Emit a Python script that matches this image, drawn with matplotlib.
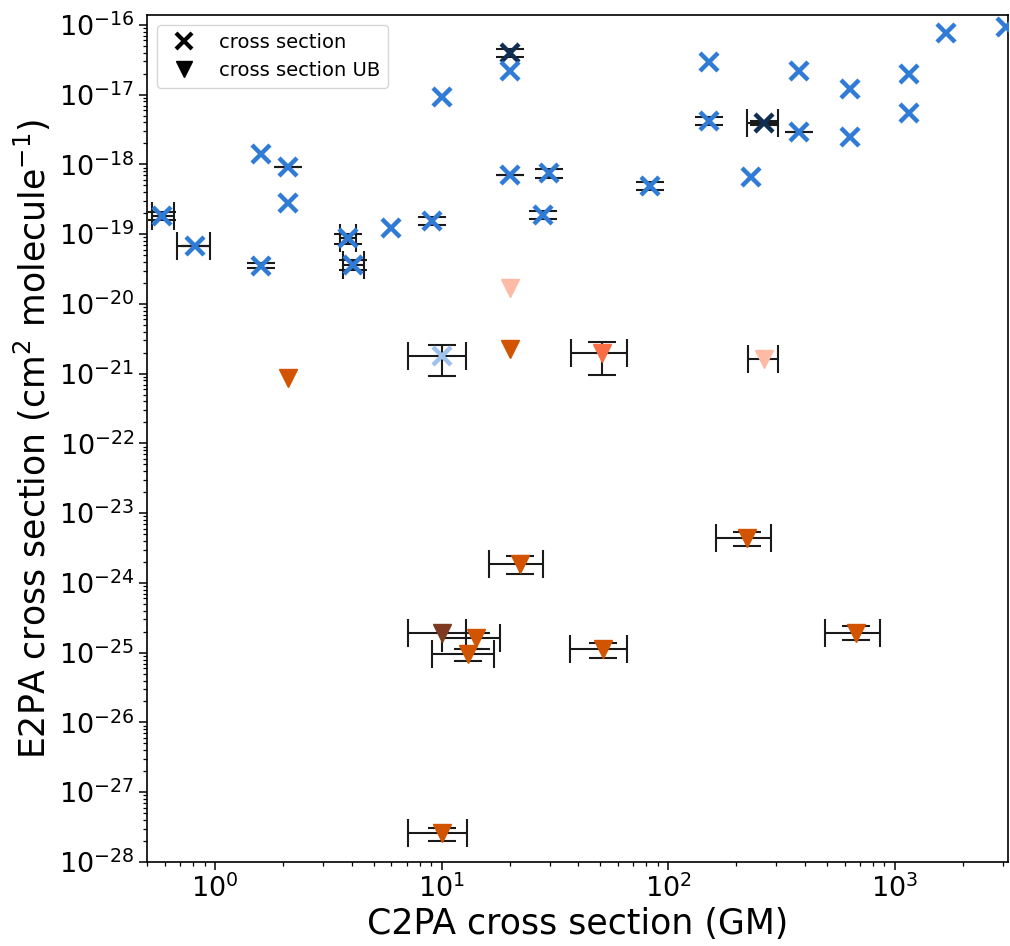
import numpy as np
import matplotlib
matplotlib.use("Agg")
import matplotlib.pyplot as plt
from matplotlib.ticker import LogLocator, NullFormatter
from matplotlib.lines import Line2D

nan = np.nan

# ---- measured cross sections (x markers) ----
cs_x = [0.585, 0.816, 1.59, 2.1, 2.1, 1.59, 3.84, 4.04, 6.0, 9.02, 10.0,
        20.1, 20.1, 20.1, 29.8, 28.1, 83.3, 151.7, 151.7, 263.6, 233.0,
        376.0, 376.0, 631.0, 631.0, 1156.0, 1156.0, 1687.0, 3100.0, 10.0]
cs_y = [1.82e-19, 6.75e-20, 1.4e-18, 9.3e-19, 2.77e-19, 3.52e-20, 8.7e-20, 3.6e-20,
        1.21e-19, 1.54e-19, 9.35e-18,
        4.0e-17, 2.19e-17, 7.05e-19, 7.45e-19, 1.88e-19, 4.94e-19, 2.97e-17, 4.24e-18,
        3.96e-18, 6.67e-19, 2.19e-17, 2.88e-18, 1.19e-17, 2.45e-18, 1.96e-17, 5.52e-18,
        7.6e-17, 9.46e-17, 1.78e-21]
cs_xerr_lo = [0.06, 0.14, nan, nan, nan, nan, 0.29, 0.39, nan, nan, nan,
              nan, nan, nan, nan, nan, nan, nan, nan, 40.0, nan,
              nan, nan, nan, nan, nan, nan, nan, nan, 2.87]
cs_xerr_hi = [0.07, 0.134, nan, nan, nan, nan, 0.34, 0.50, nan, nan, nan,
              nan, nan, nan, nan, nan, nan, nan, nan, 42.0, nan,
              nan, nan, nan, nan, nan, nan, nan, nan, 2.8]
cs_yerr_lo = [0.23e-19, 0.0, nan, 0.0, nan, 0.28e-20, 1.4e-20, 0.55e-20, nan, 0.19e-19, nan,
              0.56e-17, nan, 0.0, 1.0e-19, 0.25e-19, 0.64e-19, nan, 0.6e-18,
              0.25e-18, nan, nan, 0.0, nan, nan, nan, nan, nan, nan, 0.85e-21]
cs_yerr_hi = [0.25e-19, 0.0, nan, 0.0, nan, 0.29e-20, 1.3e-20, 0.65e-20, nan, 0.2e-19, nan,
              0.48e-17, nan, 0.0, 1.15e-19, 0.29e-19, 0.66e-19, nan, 0.59e-18,
              0.25e-18, nan, nan, 0.0, nan, nan, nan, nan, nan, nan, 0.84e-21]
cs_color = ['#2f7bd6'] * 11 + ['#102e52', '#2f7bd6', '#2f7bd6', '#2f7bd6', '#2f7bd6',
            '#2f7bd6', '#2f7bd6', '#2f7bd6', '#102e52'] + ['#2f7bd6'] * 9 + ['#9fc2ec']

# ---- upper bounds (triangle markers) ----
ub_x = [20.0, 20.0, 2.1, 51.1, 265.0, 22.2, 223.0, 676.0, 51.7, 10.0, 14.2, 13.1, 10.0]
ub_y = [1.72e-20, 2.25e-21, 8.6e-22, 1.97e-21, 1.62e-21, 1.9e-24, 4.36e-24, 1.95e-25,
        1.15e-25, 1.9e-25, 1.65e-25, 9.5e-26, 2.6e-28]
ub_xerr_lo = [nan, nan, nan, 13.8, 41.0, 6.0, 60.0, 183.0, 14.7, 2.9, 4.2, 4.0, 2.9]
ub_xerr_hi = [nan, nan, nan, 14.8, 41.0, 5.9, 62.0, 187.0, 14.3, 2.8, 3.9, 3.9, 2.9]
ub_yerr_lo = [nan, nan, nan, 1.0e-21, nan, 0.57e-24, 1.0e-24, 0.45e-25,
              0.32e-25, nan, 0.5e-25, 0.2e-25, 0.6e-28]
ub_yerr_hi = [nan, nan, nan, 0.86e-21, nan, 0.5e-24, 1.04e-24, 0.45e-25,
              0.25e-25, nan, 0.25e-25, 0.2e-25, 0.5e-28]
ub_color = ['#fdbba6', '#d35400', '#d35400', '#fb6d45', '#fdbba6', '#d35400', '#d35400',
            '#d35400', '#d35400', '#7d3a20', '#d35400', '#d35400', '#d35400']

legend_labels = ['cross section', 'cross section UB']

fig = plt.figure(figsize=(10.1, 9.46), dpi=100)
ax = fig.add_axes([147 / 1010, 84 / 946, 861 / 1010, 847 / 946])
ax.set_xscale('log')
ax.set_yscale('log')


def draw_err(xs, ys, xlo, xhi, ylo, yhi):
    for i in range(len(xs)):
        xe = None if np.isnan(xlo[i]) else [[xlo[i]], [xhi[i]]]
        ye = None if np.isnan(ylo[i]) else [[ylo[i]], [yhi[i]]]
        if xe is None and ye is None:
            continue
        ax.errorbar([xs[i]], [ys[i]], xerr=xe, yerr=ye, fmt='none', ecolor='#1a1a1a',
                    elinewidth=1.5, capsize=10, capthick=1.5, zorder=1)


draw_err(cs_x, cs_y, cs_xerr_lo, cs_xerr_hi, cs_yerr_lo, cs_yerr_hi)
draw_err(ub_x, ub_y, ub_xerr_lo, ub_xerr_hi, ub_yerr_lo, ub_yerr_hi)

for xi, yi, c in zip(cs_x, cs_y, cs_color):
    ax.plot([xi], [yi], marker='x', ms=13, mew=3.2, color=c, ls='none', zorder=3)
for xi, yi, c in zip(ub_x, ub_y, ub_color):
    ax.plot([xi], [yi], marker='v', ms=13, color=c, mec=c, ls='none', zorder=3)

ax.set_xlim(0.5, 3160)
ax.set_ylim(1e-28, 1.39e-16)

ax.xaxis.set_major_locator(LogLocator(base=10, numticks=30))
ax.xaxis.set_minor_locator(LogLocator(base=10, subs=np.arange(2, 10), numticks=100))
ax.yaxis.set_major_locator(LogLocator(base=10, numticks=30))
ax.yaxis.set_minor_locator(LogLocator(base=10, subs=np.arange(2, 10), numticks=100))
ax.xaxis.set_minor_formatter(NullFormatter())
ax.yaxis.set_minor_formatter(NullFormatter())

ax.tick_params(which='major', labelsize=19.5, length=5.5, width=1.1)
ax.tick_params(which='minor', length=3.2, width=0.9)
for s in ax.spines.values():
    s.set_linewidth(1.2)

ax.set_xlabel('C2PA cross section (GM)', fontsize=25, labelpad=3)
ax.set_ylabel('E2PA cross section (cm$^2$ molecule$^{-1}$)', fontsize=25, labelpad=4)

handles = [Line2D([], [], marker='x', ms=12, mew=3, color='black', ls='none'),
           Line2D([], [], marker='v', ms=12, color='black', ls='none')]
ax.legend(handles, legend_labels, loc='upper left', fontsize=14)

fig.savefig('out.png', dpi=100)
